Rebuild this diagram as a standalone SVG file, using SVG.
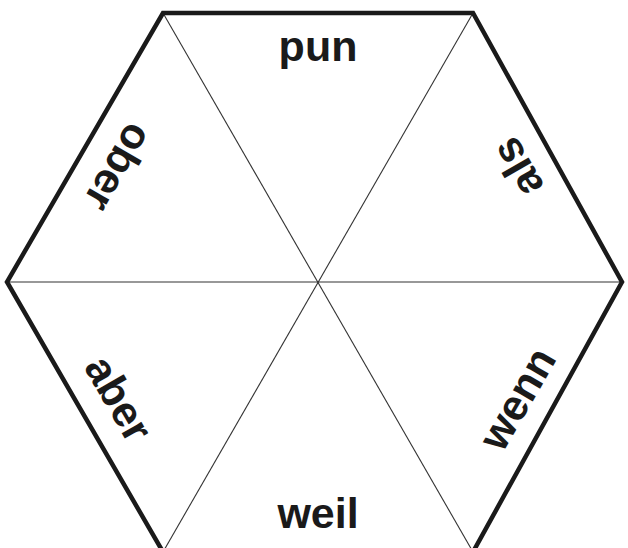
<svg xmlns="http://www.w3.org/2000/svg" width="628" height="548" viewBox="0 0 628 548">
<style>
.edge{fill:none;stroke:#1a1a1a;stroke-width:4.5;stroke-linejoin:miter}
.spoke{stroke:#333;stroke-width:1.1;fill:none}
.lbl{font-family:"Liberation Sans",Arial,sans-serif;font-weight:bold;font-size:43px;fill:#1a1a1a;text-anchor:middle}
</style>
<rect width="628" height="548" fill="#fff"/>
<g id="connectors">
<line class="spoke" x1="7" y1="282" x2="622" y2="282"/>
<line class="spoke" x1="163" y1="13" x2="473" y2="552"/>
<line class="spoke" x1="473" y1="13" x2="163" y2="552"/>
</g>
<g id="hexagon">
<polygon class="edge" points="163,13 473,13 622,282 473,552 163,552 7,282"/>
</g>
<g id="und"><text class="lbl" transform="translate(318,38) rotate(180)">und</text></g>
<g id="weil"><text class="lbl" transform="translate(318,528)">weil</text></g>
<g id="ober"><text class="lbl" transform="translate(106,160) rotate(120)">ober</text></g>
<g id="als"><text class="lbl" transform="translate(530,160) rotate(-120)">als</text></g>
<g id="aber"><text class="lbl" transform="translate(106,406) rotate(60)">aber</text></g>
<g id="wenn"><text class="lbl" transform="translate(530,406) rotate(-60)">wenn</text></g>
</svg>
